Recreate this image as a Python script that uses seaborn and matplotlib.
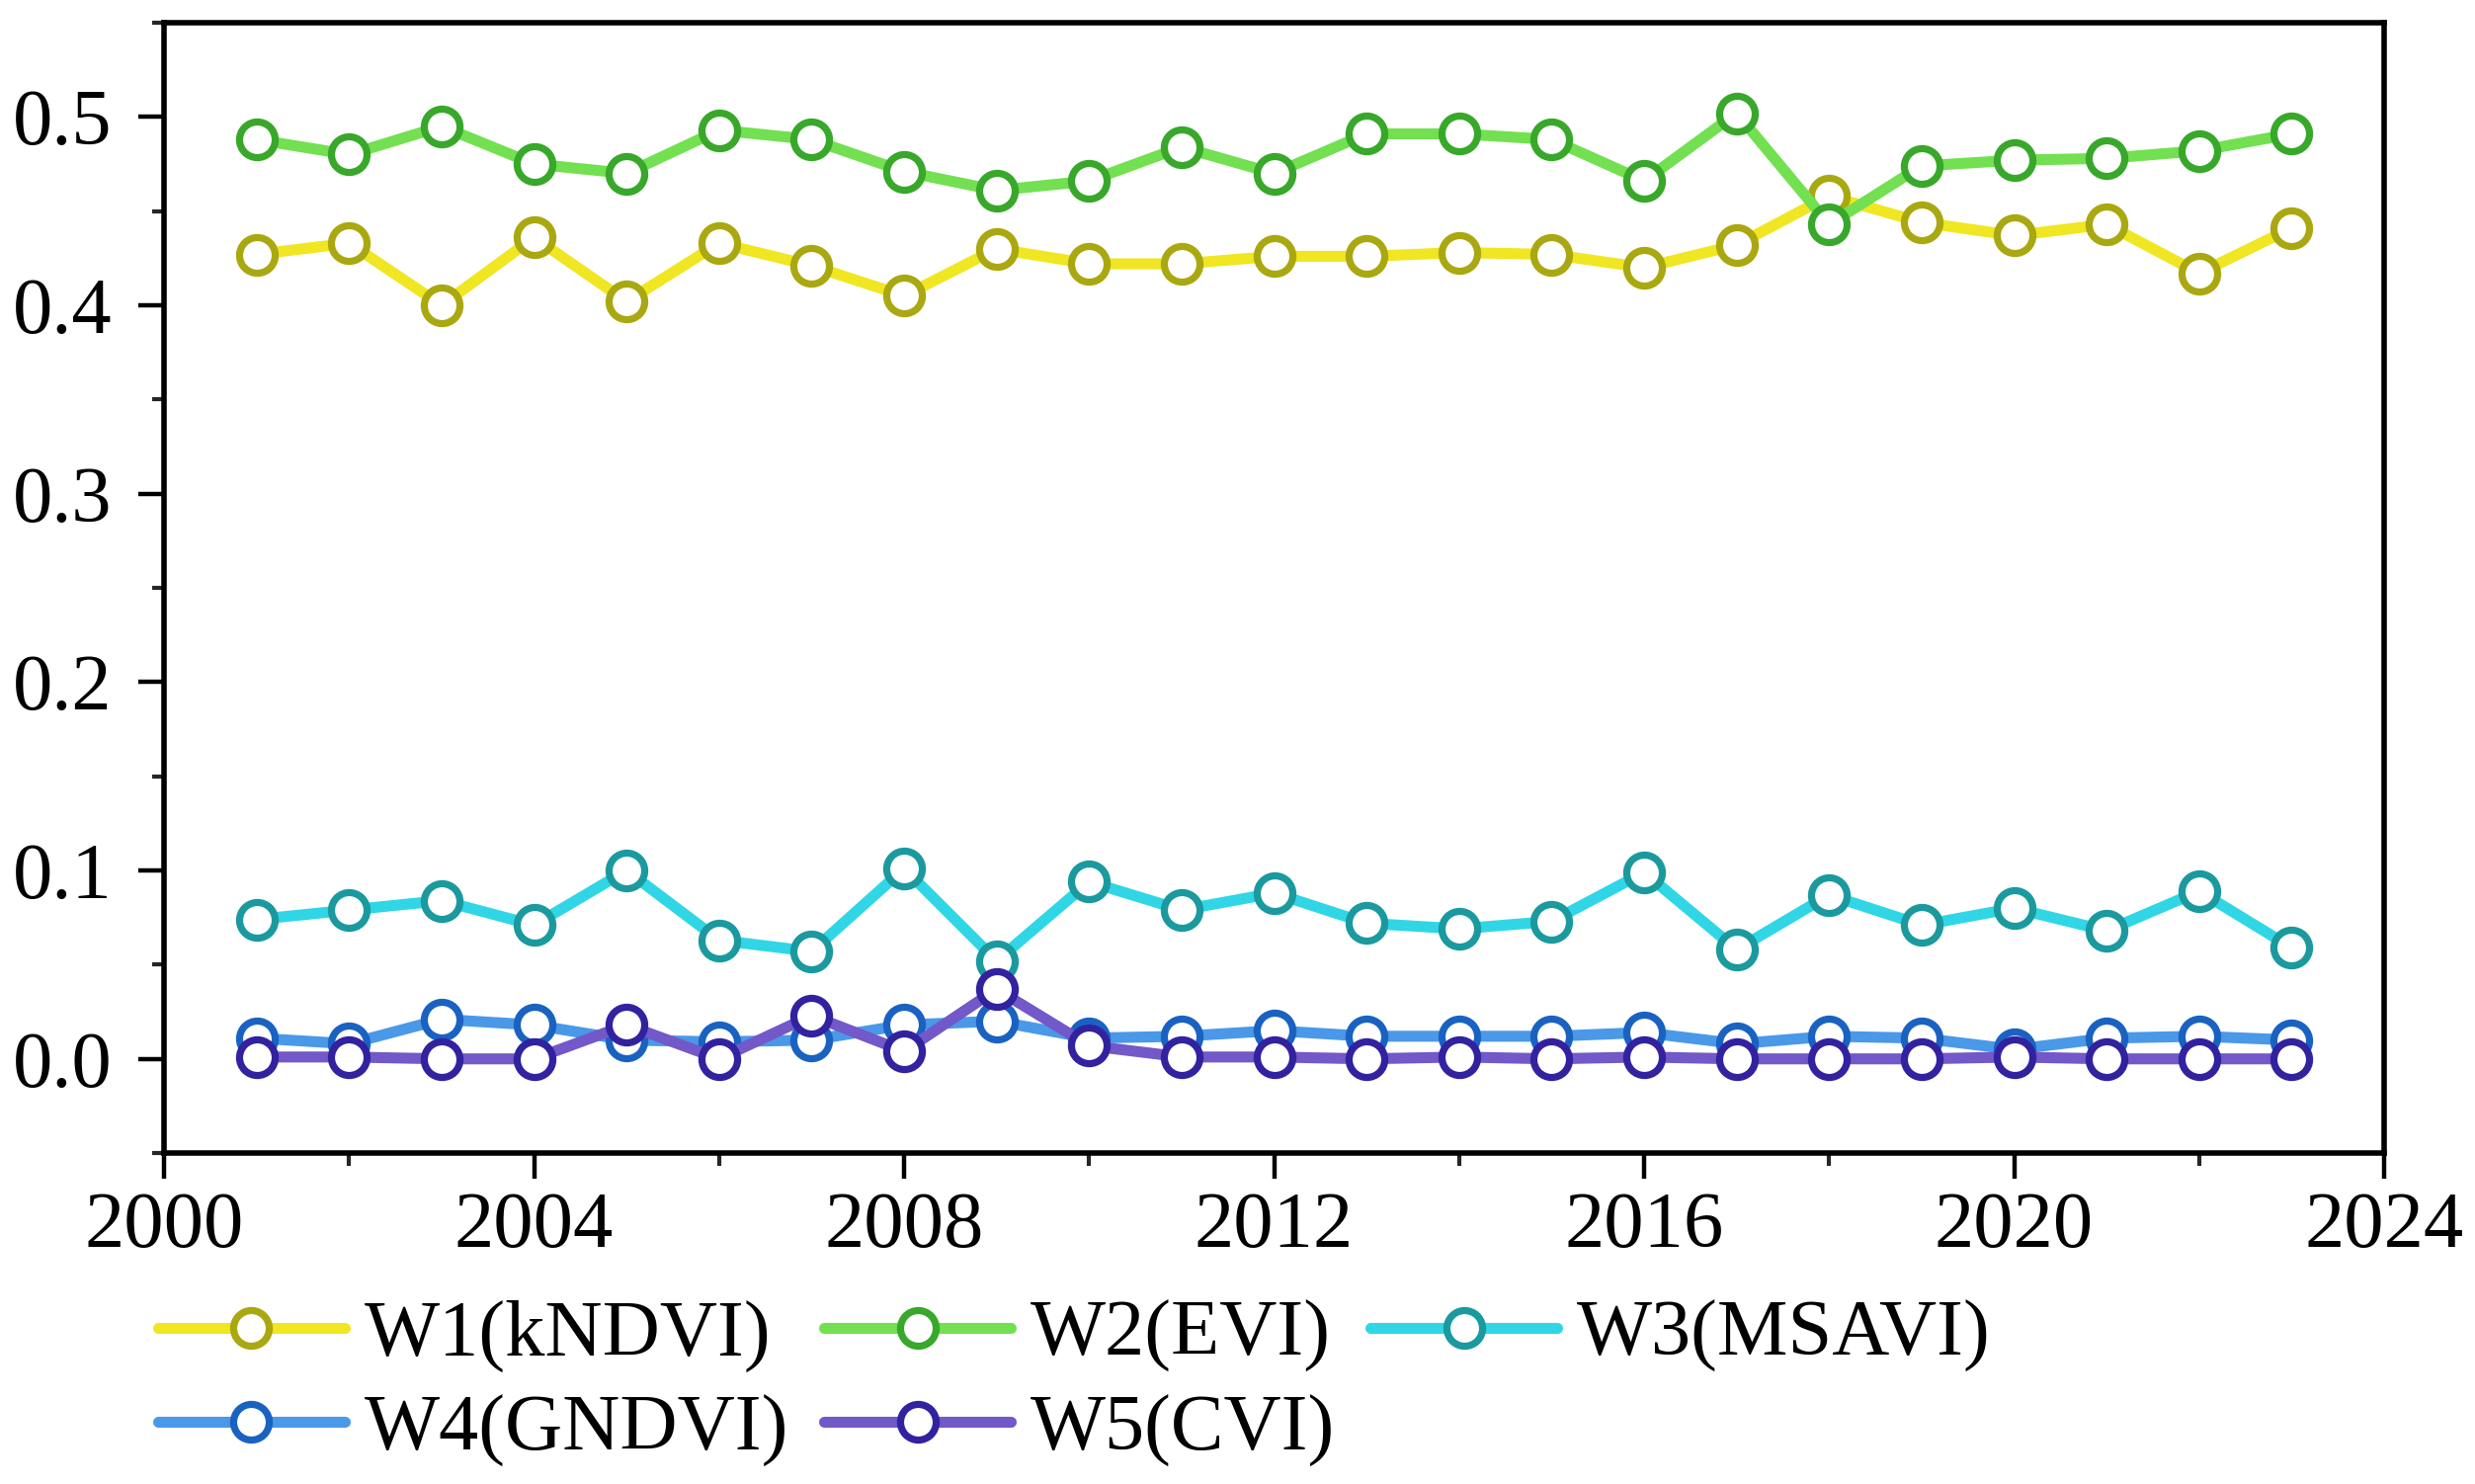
import matplotlib
matplotlib.use("Agg")
import matplotlib.pyplot as plt
import seaborn as sns
import pandas as pd
from matplotlib.ticker import MultipleLocator

years = list(range(2001, 2024))

w1_kndvi = [0.427, 0.433, 0.400, 0.436, 0.402, 0.433, 0.421, 0.405, 0.430, 0.422, 0.422, 0.426,
            0.426, 0.428, 0.427, 0.420, 0.432, 0.458, 0.444, 0.437, 0.443, 0.417, 0.441]
w2_evi = [0.488, 0.480, 0.495, 0.475, 0.470, 0.493, 0.488, 0.471, 0.461, 0.466, 0.484, 0.470,
          0.491, 0.491, 0.488, 0.466, 0.502, 0.443, 0.474, 0.477, 0.478, 0.482, 0.491]
w3_msavi = [0.074, 0.079, 0.084, 0.071, 0.100, 0.063, 0.057, 0.101, 0.052, 0.094, 0.079, 0.088,
            0.072, 0.069, 0.073, 0.099, 0.058, 0.087, 0.071, 0.080, 0.068, 0.089, 0.059]
w4_gndvi = [0.011, 0.008, 0.021, 0.018, 0.010, 0.009, 0.010, 0.018, 0.020, 0.011, 0.012, 0.015,
            0.012, 0.012, 0.012, 0.014, 0.008, 0.012, 0.011, 0.005, 0.011, 0.012, 0.010]
w5_cvi = [0.001, 0.001, 0.000, 0.000, 0.018, 0.000, 0.023, 0.004, 0.037, 0.007, 0.001, 0.001,
          0.000, 0.001, 0.000, 0.001, 0.000, 0.000, 0.000, 0.001, 0.000, 0.000, 0.000]

labels = ["W1(kNDVI)", "W2(EVI)", "W3(MSAVI)", "W4(GNDVI)", "W5(CVI)"]
line_colors = ["#f0e622", "#72e050", "#30d6e6", "#4a98e8", "#7258c8"]
edge_colors = ["#aaa810", "#38a82a", "#1a9a9e", "#1a62c2", "#3222a0"]

df = pd.DataFrame({"year": years, labels[0]: w1_kndvi, labels[1]: w2_evi,
                   labels[2]: w3_msavi, labels[3]: w4_gndvi, labels[4]: w5_cvi})

sns.set_style("ticks")
plt.rcParams["font.family"] = ["Liberation Serif", "DejaVu Serif"]
plt.rcParams["text.color"] = "black"

fig = plt.figure(figsize=(12.525, 7.51), dpi=200)
ax = fig.add_axes([0.0663, 0.2230, 0.897, 0.7617])

for lab, lc, ec in zip(labels, line_colors, edge_colors):
    sns.lineplot(data=df, x="year", y=lab, ax=ax, color=lc, linewidth=4.0,
                 marker="o", markersize=13, markerfacecolor="white",
                 markeredgecolor=ec, markeredgewidth=2.6, label=lab)

ax.set_xlim(2000, 2024)
ax.set_ylim(-0.05, 0.55)
ax.xaxis.set_major_locator(MultipleLocator(4))
ax.xaxis.set_minor_locator(MultipleLocator(2))
ax.yaxis.set_minor_locator(MultipleLocator(0.05))
ax.set_yticks([0.0, 0.1, 0.2, 0.3, 0.4, 0.5])
ax.set_yticklabels(["0.0", "0.1", "0.2", "0.3", "0.4", "0.5"])
ax.set_xlabel("")
ax.set_ylabel("")

for sp in ax.spines.values():
    sp.set_visible(True)
    sp.set_linewidth(2.0)
    sp.set_color("black")

ax.tick_params(axis="both", which="major", direction="out", length=9.5, width=1.6,
               labelsize=29, colors="black")
ax.tick_params(axis="x", which="major", pad=4.5)
ax.tick_params(axis="y", which="major", pad=9.5)
ax.tick_params(axis="both", which="minor", direction="out", length=4.5, width=1.5)
ax.tick_params(top=False, right=False, which="both")

handles, labs = ax.get_legend_handles_labels()
ax.legend_.remove()
order = [0, 3, 1, 4, 2]
leg = fig.legend([handles[i] for i in order], [labs[i] for i in order],
                 loc="upper left", bbox_to_anchor=(0.0639, 0.124), bbox_transform=fig.transFigure,
                 ncol=3, frameon=False, fontsize=29, handlelength=2.34, handletextpad=0.25,
                 columnspacing=0.45, labelspacing=0.27, borderpad=0, borderaxespad=0)
for t in leg.get_texts():
    t.set_color("black")

fig.savefig("out.png", dpi=200)
